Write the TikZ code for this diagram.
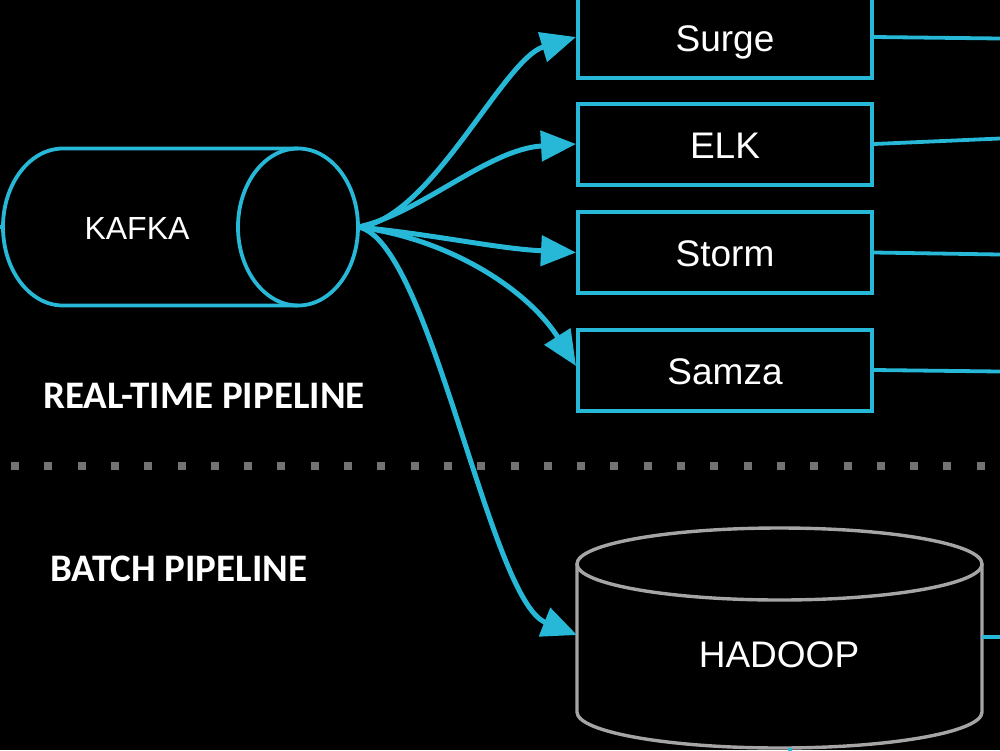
\documentclass[tikz,border=0pt]{standalone}
\usepackage{fontspec}
\setmainfont{Liberation Sans}
\newfontfamily\labelfont{Carlito}
\usetikzlibrary{arrows.meta}
\definecolor{cy}{RGB}{38,184,214}
\definecolor{hgray}{RGB}{165,165,165}
\definecolor{dotgray}{RGB}{115,115,115}
\tikzset{
  box/.style={draw=cy, line width=4pt, minimum width=294pt, minimum height=81pt, inner sep=0pt,
    text=white, font=\fontsize{37}{44}\selectfont, text height=28pt, text depth=0pt},
  flow/.style={draw=cy, line width=5pt, -{Triangle[length=35pt,width=30pt]}},
  outline/.style={draw=cy, line width=3.8pt},
  pipe/.style={text=white, anchor=west, font=\labelfont\bfseries\fontsize{39}{46}\selectfont, inner sep=0pt},
}
\begin{document}
\begin{tikzpicture}[x=1pt,y=-1pt]
\useasboundingbox (0,0) rectangle (1000,750);
\fill[black] (0,0) rectangle (1000,750);
\clip (0,0) rectangle (1000,750);

% KAFKA cylinder
\draw[outline] (298,148.5) -- (63,148.5) arc[start angle=270, end angle=90, x radius=60, y radius=78.5] -- (298,305.5);
\draw[outline] (298,227) ellipse [x radius=60, y radius=78.5];
\node[text=white, font=\fontsize{32}{38}\selectfont] (kafka) at (137,228) {KAFKA};
\coordinate (kout) at (358,227);
\coordinate (kin) at (3,227);
\coordinate (kfree) at (0,227);
\draw[outline] (kfree) -- (kin);

% boxes
\node[box] (surge) at (725,37) {Surge};
\node[box] (elk) at (725,144) {ELK};
\node[box] (storm) at (725,252.5) {Storm};
\node[box] (samza) at (725,370) {Samza};

% outgoing lines on the right
\coordinate (e1) at (1000,38.5);
\coordinate (e2) at (1000,138.5);
\coordinate (e3) at (1000,254.5);
\coordinate (e4) at (1000,371.5);
\draw[outline] (surge.east) -- (e1);
\draw[outline] (elk.east) -- (e2);
\draw[outline] (storm.east) -- (e3);
\draw[outline] (samza.east) -- (e4);

% HADOOP cylinder
\draw[hgray, line width=3.4pt] (779.5,564) ellipse [x radius=202.5, y radius=36];
\draw[hgray, line width=3.4pt] (577,564) -- (577,712) arc[start angle=180, end angle=0, x radius=202.5, y radius=36] -- (982,564);
\node[text=white, font=\fontsize{37}{44}\selectfont] (hadoop) at (779,655) {HADOOP};
\coordinate (hin) at (577,635);
\coordinate (hout) at (982,637);
\coordinate (h1) at (1000,637);
\draw[outline] (hout) -- (h1);
\coordinate (hb) at (790,748);
\coordinate (hb2) at (790,752);
\draw[outline] (hb) -- (hb2);

% arrows from KAFKA
\draw[flow] (kout) .. controls +(72,-6) and +(-73,22) .. (surge.west);
\draw[flow] (kout) .. controls +(62,-13) and +(-88,5) .. (elk.west);
\draw[flow] (kout) .. controls +(80,8) and +(-80,-4) .. (storm.west);
\draw[flow] (kout) .. controls +(92,12) and +(-48,-76) .. ([yshift=4pt]samza.west);
\draw[flow] (kout) .. controls +(72,12) and +(-88,-35) .. (hin);

% divider
\foreach \i in {0,...,29} {
  \fill[dotgray] ({11+33.3*\i},462) rectangle ++(8,8);
}

% labels
\node[pipe] (rt) at (43,396) {REAL-TIME PIPELINE};
\node[pipe] (bp) at (50,569) {BATCH PIPELINE};
\end{tikzpicture}
\end{document}
